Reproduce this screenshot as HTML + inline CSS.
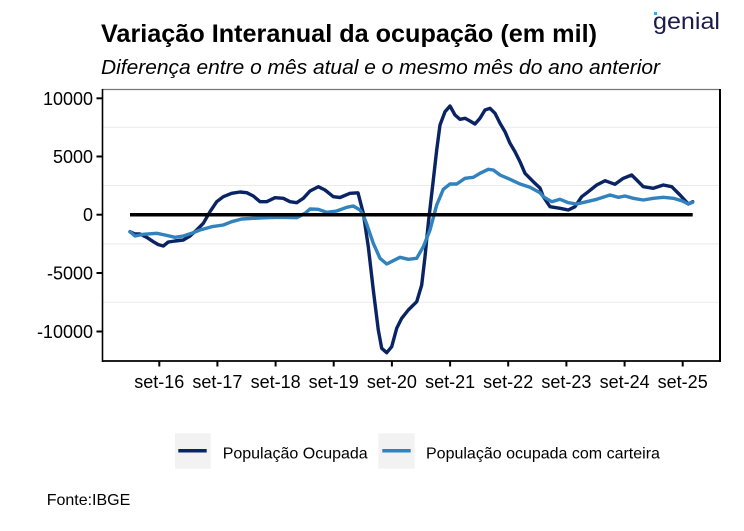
<!DOCTYPE html>
<html><head><meta charset="utf-8"><style>
html,body{margin:0;padding:0;background:#fff;}
svg{display:block;}
text{font-family:"Liberation Sans",Arial,sans-serif;fill:#000;}
</style></head><body>
<svg width="744" height="531" viewBox="0 0 744 531" xmlns="http://www.w3.org/2000/svg">
<rect width="744" height="531" fill="#fff"/>
<text x="101" y="42" font-size="25" font-weight="bold" textLength="496" lengthAdjust="spacingAndGlyphs">Variação Interanual da ocupação (em mil)</text>
<text x="101" y="74" font-size="20" font-style="italic" textLength="559" lengthAdjust="spacingAndGlyphs">Diferença entre o mês atual e o mesmo mês do ano anterior</text>
<text x="653" y="29" font-size="23" textLength="67" lengthAdjust="spacingAndGlyphs" style="fill:#1b1b4b">genial</text>
<rect x="654" y="12" width="3" height="3" fill="#21b5e8"/>
<g stroke="#ebebeb" stroke-width="1">
<line x1="103" y1="127.2" x2="719" y2="127.2"/>
<line x1="103" y1="185.5" x2="719" y2="185.5"/>
<line x1="103" y1="243.9" x2="719" y2="243.9"/>
<line x1="103" y1="302.2" x2="719" y2="302.2"/>
</g>
<line x1="102" y1="89.5" x2="720" y2="89.5" stroke="#777" stroke-width="1.2"/>
<line x1="720" y1="89" x2="720" y2="362" stroke="#000" stroke-width="2"/>
<line x1="102.5" y1="89" x2="102.5" y2="362" stroke="#000" stroke-width="1.6"/>
<line x1="102" y1="361" x2="720" y2="361" stroke="#000" stroke-width="1.8"/>
<g stroke="#000" stroke-width="2">
<line x1="96.5" y1="98.3" x2="102" y2="98.3"/>
<line x1="96.5" y1="156.5" x2="102" y2="156.5"/>
<line x1="96.5" y1="214.7" x2="102" y2="214.7"/>
<line x1="96.5" y1="273" x2="102" y2="273"/>
<line x1="96.5" y1="331.5" x2="102" y2="331.5"/>
<line x1="159.3" y1="361" x2="159.3" y2="366.5"/>
<line x1="217.4" y1="361" x2="217.4" y2="366.5"/>
<line x1="275.6" y1="361" x2="275.6" y2="366.5"/>
<line x1="333.7" y1="361" x2="333.7" y2="366.5"/>
<line x1="391.9" y1="361" x2="391.9" y2="366.5"/>
<line x1="450.1" y1="361" x2="450.1" y2="366.5"/>
<line x1="508.2" y1="361" x2="508.2" y2="366.5"/>
<line x1="566.4" y1="361" x2="566.4" y2="366.5"/>
<line x1="624.6" y1="361" x2="624.6" y2="366.5"/>
<line x1="682.7" y1="361" x2="682.7" y2="366.5"/>
</g>
<g font-size="18" text-anchor="end">
<text x="93" y="104.8">10000</text>
<text x="93" y="163">5000</text>
<text x="93" y="221.2">0</text>
<text x="93" y="279.5">-5000</text>
<text x="93" y="338">-10000</text>
</g>
<g font-size="18" text-anchor="middle">
<text x="159.3" y="388">set-16</text>
<text x="217.4" y="388">set-17</text>
<text x="275.6" y="388">set-18</text>
<text x="333.7" y="388">set-19</text>
<text x="391.9" y="388">set-20</text>
<text x="450.1" y="388">set-21</text>
<text x="508.2" y="388">set-22</text>
<text x="566.4" y="388">set-23</text>
<text x="624.6" y="388">set-24</text>
<text x="682.7" y="388">set-25</text>
</g>
<polyline fill="none" stroke="#0a2463" stroke-width="3.4" stroke-linejoin="round" stroke-linecap="round" points="130,231.7 135,234 140,234 146.7,237.3 153.3,241.7 158,244.5 163.3,246 168.3,242 175,241 183.3,240 190,236 196.7,230 203.3,223.3 210,211.7 216.7,201.7 223.3,196.7 231.7,193.3 240,192 246.7,192.7 253.3,196 260,201.7 266.7,201.7 275,197.7 283.3,198.3 290,201.7 296.7,202.7 303.3,198.3 310,191 318.3,186.7 325,190 333.3,196.7 340,197.5 350,193.3 358,192.8 363.3,213.3 368.3,246.7 373.3,290 378.3,330 381.7,348.3 386.7,352.7 391.7,346.7 396.7,328.3 401.7,318.3 408.3,310 416.7,301.7 421.7,285 425,256.7 428.3,223.3 433.3,180 436.7,150 440,125 445,111.7 450,106 455,115 460,119.3 465,118.3 470,121 475,124 480,118.3 485,110 490,108.3 495,113.3 500,123.3 505,131.7 510,143.3 515,151.7 520,161.7 525,173.3 533.3,181.7 540,188 543.3,196.7 550,206.7 560,208.3 568.3,210 575,206.7 581.7,196.7 588.3,191.7 596.7,185 605,180.7 615,184.3 623.3,178.3 631.7,175 636.7,180 643.3,186.7 653.3,188.3 663.3,185 671.7,186.7 680,195 688.3,204 692.7,201.7"/>
<polyline fill="none" stroke="#3182bd" stroke-width="3.4" stroke-linejoin="round" stroke-linecap="round" points="130,231.7 135,236 143.3,234.3 156.7,233.3 165,235 175,237.3 183.3,236 191.7,233.3 200,230 211.7,226.7 223.3,225 231.7,221.7 241.7,219 253.3,218.3 266.7,217.7 280,217.3 296.7,217.7 305,213.3 310,209 318.3,209.3 326.7,212.3 336.7,211 346.7,207.3 353.3,206 360,210 363,214.7 366.7,224 373.3,243.3 380,258.3 386.7,264 393.3,260.7 400,257.3 408.3,259.3 416.7,258.3 423.3,246.7 430,230 436.7,205 443.3,189.3 450,184 456.7,184 465,178.3 473.3,177.3 480,173.3 488.3,169.3 493.3,170 500,175 510,179.3 520,184 530,187.3 540,192.7 543.3,196.7 551.7,201.7 560,199.3 568.3,202.7 576.7,204 586.7,201.7 596.7,199.3 610,195 618.3,197.3 625,196 633.3,198.3 643.3,200 653.3,198.3 663.3,197.3 673.3,198.3 681.7,200.7 688.3,204 692.7,202.3"/>
<line x1="130" y1="214.7" x2="692.7" y2="214.7" stroke="#000" stroke-width="3.5"/>
<rect x="175" y="433.3" width="35.7" height="35.4" fill="#f2f2f2"/>
<line x1="178.3" y1="450.8" x2="206.7" y2="450.8" stroke="#0a2463" stroke-width="3.5"/>
<text x="222.7" y="458.5" font-size="16">População Ocupada</text>
<rect x="378.3" y="433.3" width="36.4" height="35.4" fill="#f2f2f2"/>
<line x1="382.3" y1="450.8" x2="410.7" y2="450.8" stroke="#3182bd" stroke-width="3.5"/>
<text x="426" y="458.5" font-size="16">População ocupada com carteira</text>
<text x="46.7" y="505" font-size="16">Fonte:IBGE</text>
</svg>
</body></html>
